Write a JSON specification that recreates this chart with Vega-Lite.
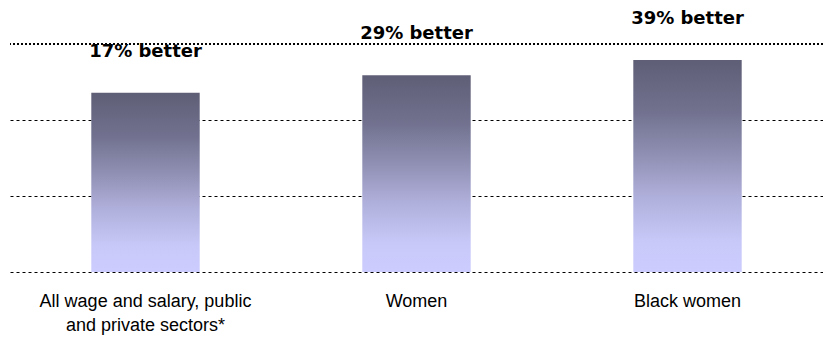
{
  "$schema": "https://vega.github.io/schema/vega-lite/v6.json",
  "autosize": "none",
  "width": 813,
  "height": 228,
  "padding": {"left": 10, "top": 44, "right": 0, "bottom": 67},
  "background": "white",
  "config": {"view": {"stroke": null}},
  "data": {"values": [
    {"group": "All wage and salary, public and private sectors*", "value": 236, "label": "17% better"},
    {"group": "Women", "value": 259, "label": "29% better"},
    {"group": "Black women", "value": 279, "label": "39% better"}
  ]},
  "encoding": {
    "x": {"field": "group", "type": "nominal", "sort": null,
      "scale": {"paddingInner": 0.6, "paddingOuter": 0.3},
      "axis": {"title": null, "labelAngle": 0, "domain": false, "ticks": false,
        "labelFont": "Liberation Sans", "labelFontSize": 18, "labelColor": "#000000",
        "labelPadding": 20, "labelLimit": 400, "labelLineHeight": 24,
        "labelExpr": "datum.value == 'All wage and salary, public and private sectors*' ? ['All wage and salary, public', 'and private sectors*'] : datum.value"}},
    "y": {"field": "value", "type": "quantitative",
      "scale": {"domain": [0, 300], "nice": false},
      "axis": {"title": null, "labels": false, "ticks": false, "domain": false,
        "values": [0, 100, 200], "grid": true, "gridColor": "#000000",
        "gridDash": [3, 3], "gridWidth": 1, "gridOpacity": 1}}
  },
  "layer": [
    {"mark": {"type": "rule", "color": "#000000", "strokeDash": [2, 2], "strokeWidth": 1.6},
      "encoding": {"y": {"datum": 300, "type": "quantitative"}, "x": null}},
    {"mark": {"type": "bar",
      "color": {"gradient": "linear", "x1": 0, "y1": 0, "x2": 0, "y2": 1,
        "stops": [
          {"offset": 0, "color": "#5e5e76"},
          {"offset": 0.25, "color": "#727290"},
          {"offset": 0.45, "color": "#9090b4"},
          {"offset": 0.65, "color": "#b0b0dc"},
          {"offset": 0.85, "color": "#c8c8f8"},
          {"offset": 1, "color": "#ccccff"}
        ]}}},
    {"mark": {"type": "text", "dy": -41, "font": "DejaVu Sans", "fontWeight": "bold", "fontSize": 18, "color": "#000000", "baseline": "middle"},
      "encoding": {"text": {"field": "label"}}}
  ]
}
